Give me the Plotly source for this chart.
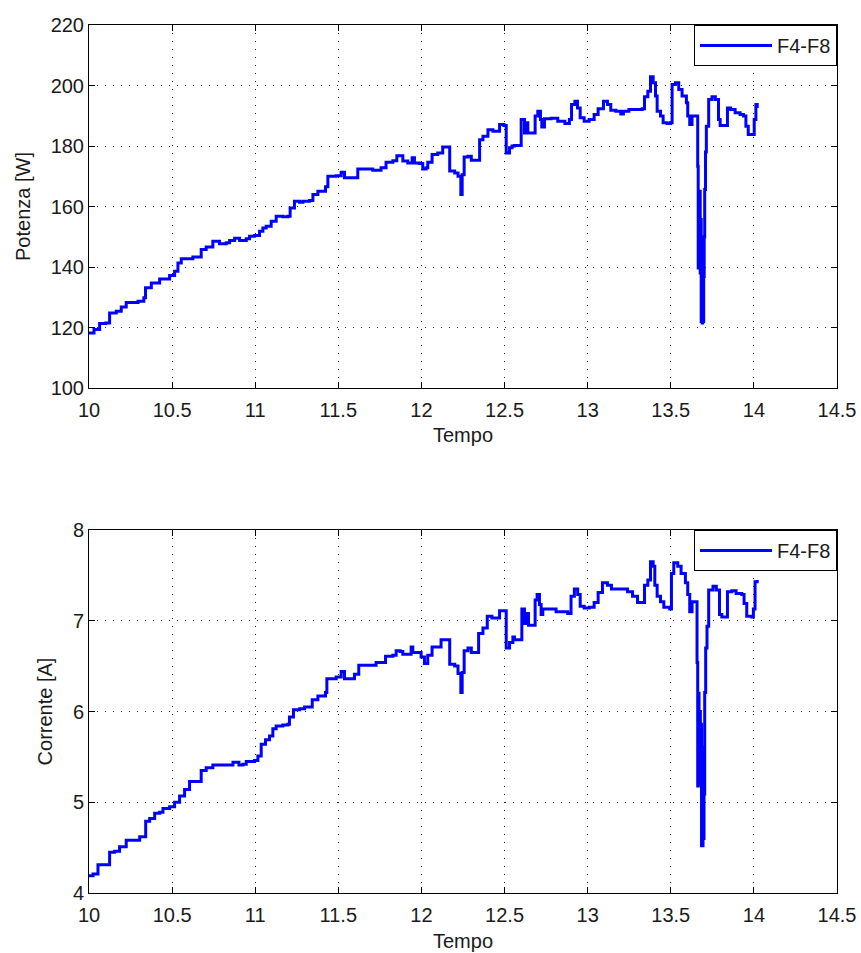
import plotly.graph_objects as go
from plotly.subplots import make_subplots

# Potenza (W) vs tempo
tempo_p = [
    10.000, 10.030, 10.064, 10.100, 10.124, 10.164, 10.194, 10.224, 10.295, 10.330,
    10.340, 10.375, 10.425, 10.485, 10.515, 10.535, 10.555, 10.625, 10.655, 10.675,
    10.705, 10.745, 10.785, 10.826, 10.846, 10.876, 10.906, 10.946, 10.966, 10.996,
    11.026, 11.046, 11.066, 11.096, 11.126, 11.166, 11.196, 11.210, 11.236, 11.267,
    11.287, 11.327, 11.347, 11.377, 11.423, 11.437, 11.487, 11.517, 11.537, 11.587,
    11.617, 11.687, 11.707, 11.757, 11.787, 11.828, 11.852, 11.888, 11.918, 11.944,
    11.958, 11.988, 12.008, 12.028, 12.038, 12.064, 12.098, 12.128, 12.155, 12.170,
    12.200, 12.220, 12.237, 12.245, 12.257, 12.280, 12.300, 12.336, 12.350, 12.370,
    12.400, 12.430, 12.470, 12.496, 12.510, 12.530, 12.545, 12.560, 12.590, 12.600,
    12.620, 12.630, 12.640, 12.670, 12.684, 12.700, 12.716, 12.724, 12.740, 12.780,
    12.820, 12.863, 12.890, 12.903, 12.923, 12.939, 12.955, 12.979, 13.009, 13.039,
    13.063, 13.095, 13.119, 13.139, 13.169, 13.199, 13.215, 13.248, 13.298, 13.328,
    13.342, 13.362, 13.378, 13.394, 13.408, 13.418, 13.438, 13.454, 13.478, 13.498,
    13.508, 13.528, 13.548, 13.568, 13.594, 13.602, 13.614, 13.628, 13.658, 13.662,
    13.665, 13.668, 13.671, 13.674, 13.677, 13.680, 13.683, 13.686, 13.689, 13.692,
    13.695, 13.698, 13.701, 13.704, 13.709, 13.714,
    13.728, 13.748, 13.768, 13.787, 13.797, 13.827, 13.841, 13.860, 13.887, 13.917,
    13.937, 13.952, 13.966, 13.992, 14.002, 14.012, 14.020,
]
potenza = [
    118.2, 119.3, 121.3, 121.5, 124.8, 125.4, 126.8, 128.3, 128.7, 129.8,
    133.1, 134.7, 136.0, 137.2, 138.6, 141.3, 142.7, 143.3, 143.3, 145.8,
    146.6, 148.5, 147.7, 148.0, 148.8, 149.5, 148.8, 149.3, 150.2, 150.4,
    151.8, 152.9, 153.5, 155.1, 156.8, 156.6, 156.8, 159.5, 161.7, 161.4,
    161.7, 162.0, 164.0, 165.0, 166.5, 170.0, 170.2, 171.3, 169.5, 169.5,
    172.4, 172.4, 172.0, 172.8, 174.6, 175.1, 176.8, 175.0, 174.4, 176.1,
    174.4, 174.2, 172.4, 172.8, 174.6, 177.2, 177.7, 179.7, 179.7, 171.7,
    171.1, 170.0, 164.0, 170.5, 176.4, 176.6, 175.3, 175.3, 182.1, 183.2,
    185.4, 184.9, 187.1, 186.8, 177.7, 179.4, 180.0, 180.2, 180.2, 188.8,
    184.3, 187.7, 184.3, 184.3, 189.9, 191.5, 188.8, 186.3, 189.0, 189.2,
    188.2, 187.4, 188.8, 193.7, 194.8, 192.6, 189.3, 188.2, 188.8, 190.4,
    192.3, 194.8, 193.7, 191.8, 191.5, 190.6, 191.5, 192.1, 192.1, 192.3,
    196.3, 198.1, 202.9, 200.9, 196.5, 191.5, 189.9, 187.7, 187.4, 187.7,
    200.3, 200.9, 198.7, 196.5, 194.3, 189.9, 187.1, 189.9, 189.9, 173.3,
    139.7, 160.0, 141.0, 165.0, 138.0, 155.7, 122.0, 150.0, 121.5, 137.0,
    122.0, 136.9, 150.0, 165.6, 178.0, 186.5,
    195.4, 196.3, 195.4, 188.8, 186.8, 186.8, 192.6, 192.1, 191.0, 190.4,
    189.9, 186.5, 183.8, 183.8, 188.8, 193.7, 192.6,
]

# Corrente (A) vs tempo
tempo_i = [
    10.000, 10.024, 10.054, 10.094, 10.124, 10.154, 10.184, 10.224, 10.275, 10.305,
    10.329, 10.341, 10.365, 10.395, 10.425, 10.445, 10.485, 10.515, 10.545, 10.575,
    10.605, 10.655, 10.675, 10.705, 10.745, 10.826, 10.866, 10.902, 10.926, 10.946,
    10.996, 11.016, 11.036, 11.062, 11.086, 11.106, 11.126, 11.166, 11.196, 11.206,
    11.230, 11.267, 11.297, 11.327, 11.343, 11.377, 11.423, 11.431, 11.487, 11.517,
    11.537, 11.577, 11.597, 11.623, 11.707, 11.727, 11.757, 11.784, 11.828, 11.848,
    11.872, 11.888, 11.918, 11.938, 11.948, 11.978, 11.998, 12.018, 12.038, 12.064,
    12.098, 12.118, 12.155, 12.170, 12.200, 12.220, 12.237, 12.245, 12.257, 12.280,
    12.300, 12.336, 12.344, 12.370, 12.396, 12.424, 12.470, 12.496, 12.510, 12.530,
    12.550, 12.560, 12.590, 12.604, 12.620, 12.630, 12.644, 12.670, 12.684, 12.696,
    12.710, 12.720, 12.730, 12.760, 12.810, 12.880, 12.900, 12.920, 12.940, 12.955,
    12.979, 13.009, 13.039, 13.063, 13.089, 13.119, 13.143, 13.210, 13.240, 13.270,
    13.300, 13.330, 13.342, 13.362, 13.378, 13.394, 13.404, 13.418, 13.438, 13.458,
    13.494, 13.504, 13.518, 13.542, 13.562, 13.588, 13.602, 13.614, 13.628, 13.655,
    13.658, 13.662, 13.666, 13.670, 13.674, 13.678, 13.682, 13.685, 13.688, 13.691,
    13.694, 13.697, 13.700, 13.704, 13.710,
    13.718, 13.728, 13.754, 13.774, 13.793, 13.807, 13.827, 13.841, 13.867, 13.893,
    13.927, 13.941, 13.957, 13.987, 13.997, 14.007, 14.020,
]
corrente = [
    4.19, 4.21, 4.31, 4.31, 4.45, 4.46, 4.51, 4.58, 4.58, 4.62,
    4.62, 4.79, 4.82, 4.88, 4.89, 4.93, 4.95, 5.00, 5.07, 5.14,
    5.23, 5.23, 5.35, 5.38, 5.41, 5.41, 5.44, 5.41, 5.42, 5.45,
    5.46, 5.51, 5.64, 5.69, 5.73, 5.81, 5.84, 5.85, 5.86, 5.94,
    6.02, 6.03, 6.05, 6.05, 6.13, 6.17, 6.21, 6.36, 6.38, 6.44,
    6.36, 6.36, 6.41, 6.51, 6.51, 6.54, 6.54, 6.61, 6.62, 6.67,
    6.66, 6.63, 6.63, 6.71, 6.65, 6.65, 6.60, 6.53, 6.62, 6.71,
    6.71, 6.79, 6.79, 6.52, 6.50, 6.42, 6.21, 6.43, 6.67, 6.70,
    6.65, 6.65, 6.86, 6.92, 7.05, 7.03, 7.11, 7.11, 6.70, 6.76,
    6.82, 6.79, 6.79, 7.13, 6.97, 7.08, 6.95, 6.95, 7.23, 7.29,
    7.18, 7.07, 7.13, 7.13, 7.10, 7.08, 7.27, 7.35, 7.29, 7.16,
    7.14, 7.15, 7.20, 7.31, 7.42, 7.39, 7.35, 7.35, 7.32, 7.27,
    7.20, 7.20, 7.39, 7.45, 7.65, 7.60, 7.39, 7.27, 7.21, 7.15,
    7.13, 7.52, 7.64, 7.60, 7.52, 7.42, 7.29, 7.10, 7.21, 7.21,
    6.54, 5.18, 6.20, 5.20, 6.00, 5.30, 5.86, 4.52, 5.60, 4.52,
    5.10, 4.60, 5.09, 6.21, 6.70,
    6.94, 7.34, 7.38, 7.34, 7.07, 7.04, 7.04, 7.32, 7.33, 7.30,
    7.29, 7.19, 7.05, 7.04, 7.13, 7.43, 7.45,
]

x_ticks = [10, 10.5, 11, 11.5, 12, 12.5, 13, 13.5, 14, 14.5]
x_labels = ["10", "10.5", "11", "11.5", "12", "12.5", "13", "13.5", "14", "14.5"]
p_ticks = [100, 120, 140, 160, 180, 200, 220]
i_ticks = [4, 5, 6, 7, 8]
series_name = "F4-F8"

FONT = "Liberation Sans, Arial, sans-serif"
TXT = "#1a1a1a"
BLUE = "#0000ff"

fig = make_subplots(rows=2, cols=1, vertical_spacing=0.1636)

fig.add_trace(go.Scatter(x=tempo_p, y=potenza, mode="lines", name=series_name,
                         line=dict(color=BLUE, width=3, shape="hv"), legend="legend"),
              row=1, col=1)
fig.add_trace(go.Scatter(x=tempo_i, y=corrente, mode="lines", name=series_name,
                         line=dict(color=BLUE, width=3, shape="hv"), legend="legend2"),
              row=2, col=1)

axis_common = dict(
    showline=True, linecolor="black", linewidth=1, mirror="ticks",
    ticks="inside", ticklen=6, tickcolor="black", tickwidth=1,
    showgrid=True, gridcolor="#222222", gridwidth=1, griddash="1px,7px",
    zeroline=False, automargin=False,
    tickfont=dict(family=FONT, size=20, color=TXT),
    title_font=dict(family=FONT, size=20, color=TXT),
)

for r in (1, 2):
    fig.update_xaxes(range=[10, 14.5], tickvals=x_ticks, ticktext=x_labels,
                     title_text="Tempo", title_standoff=8, ticklabelstandoff=4,
                     row=r, col=1, **axis_common)

fig.update_yaxes(range=[100, 220], tickvals=p_ticks, title_text="Potenza [W]",
                 title_standoff=14, row=1, col=1, **axis_common)
fig.update_yaxes(range=[4, 8], tickvals=i_ticks, title_text="Corrente [A]",
                 title_standoff=14, row=2, col=1, **axis_common)

legend_style = dict(
    xref="paper", yref="paper", x=1, xanchor="right", yanchor="top",
    bgcolor="white", bordercolor="black", borderwidth=1,
    font=dict(family=FONT, size=20, color=TXT), itemwidth=72,
)

fig.update_layout(
    width=861, height=953,
    margin=dict(l=89, r=24, t=25, b=60),
    paper_bgcolor="white", plot_bgcolor="white",
    showlegend=True,
    legend=dict(y=1.0, **legend_style),
    legend2=dict(y=0.4182, **legend_style),
)

fig.write_html("out.html")
